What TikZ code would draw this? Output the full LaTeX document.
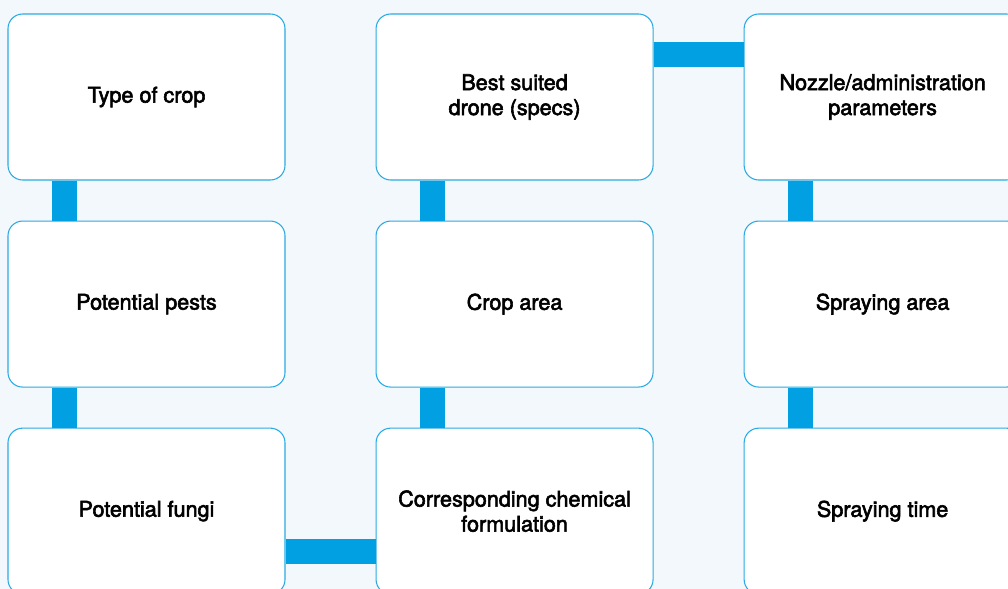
\documentclass[tikz,border=0pt]{standalone}
\usepackage{fontspec}
\newfontfamily\boxfont{TeX Gyre Heros}[FakeBold=2.6]
\usepackage{tikz}
\usetikzlibrary{positioning}
\definecolor{pagebg}{HTML}{F3F8FD}
\definecolor{edgeblue}{HTML}{2AAAE2}
\definecolor{barblue}{HTML}{00A0E3}
\tikzset{
  factor/.style = {rectangle, rounded corners=11pt, draw=edgeblue, line width=0.8pt,
                   fill=white, minimum width=207.75pt, minimum height=124.5pt,
                   align=center, font=\boxfont\fontsize{16.2}{18.75}\selectfont},
  link/.style   = {barblue, line width=18.75pt}
}

\begin{document}
\begin{tikzpicture}[node distance=30pt and 67.5pt]
  \fill[pagebg] (0,0) rectangle (756pt,-441.75pt);
  \useasboundingbox (0,0) rectangle (756pt,-441.75pt);

  \node[factor] (crop)     at (109.875pt,-72.75pt) {Type of crop};
  \node[factor] (pests)    [below=of crop]    {Potential pests};
  \node[factor] (fungi)    [below=of pests]   {Potential fungi};
  \node[factor] (drone)    [right=of crop]    {Best suited\\drone (specs)};
  \node[factor] (area)     [below=of drone]   {Crop area};
  \node[factor] (chemical) [below=of area]    {Corresponding chemical\\formulation};
  \node[factor] (nozzle)   [right=of drone]   {Nozzle/administration\\parameters};
  \node[factor] (sprayarea)[below=of nozzle]  {Spraying area};
  \node[factor] (spraytime)[below=of sprayarea] {Spraying time};

  % vertical links
  \draw[link] ([xshift=42.75pt]crop.south west) -- ([xshift=42.75pt]pests.north west);
  \draw[link] ([xshift=42.75pt]pests.south west) -- ([xshift=42.75pt]fungi.north west);
  \draw[link] ([xshift=42.75pt]drone.south west) -- ([xshift=42.75pt]area.north west);
  \draw[link] ([xshift=42.75pt]area.south west) -- ([xshift=42.75pt]chemical.north west);
  \draw[link] ([xshift=42.75pt]nozzle.south west) -- ([xshift=42.75pt]sprayarea.north west);
  \draw[link] ([xshift=42.75pt]sprayarea.south west) -- ([xshift=42.75pt]spraytime.north west);

  % horizontal links
  \draw[link] ([yshift=-31.1pt]drone.north east) -- ([yshift=-31.1pt]nozzle.north west);
  \draw[link] ([yshift=-92.6pt]fungi.north east) -- ([yshift=-92.6pt]chemical.north west);
\end{tikzpicture}
\end{document}
